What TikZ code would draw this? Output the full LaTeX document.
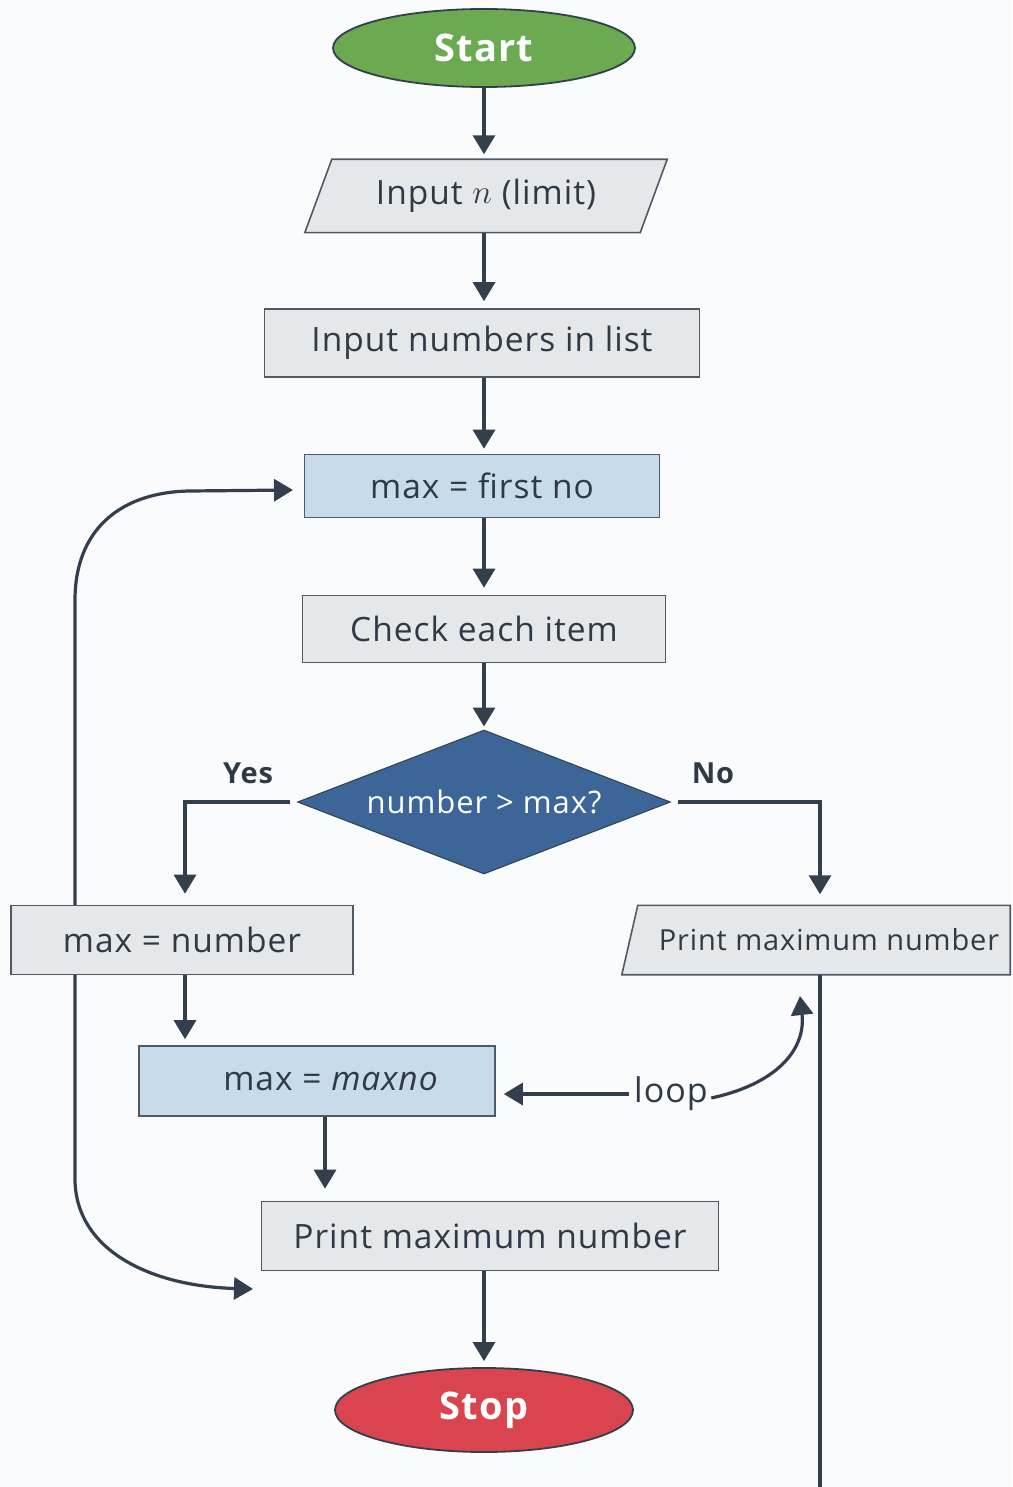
\documentclass[tikz,border=0pt]{standalone}
\usepackage{fontspec}
\usepackage{graphicx}
\setmainfont{Open Sans}[LetterSpace=3]
\usetikzlibrary{arrows.meta,shapes.geometric,calc,backgrounds}

\definecolor{ink}{HTML}{333F4C}
\definecolor{edge}{HTML}{4F5A66}
\definecolor{txt}{HTML}{2F3A45}
\definecolor{boxgray}{HTML}{E5E8EB}
\definecolor{boxblue}{HTML}{C8DBEA}
\definecolor{decblue}{HTML}{3C6697}
\definecolor{startgreen}{HTML}{6BAA50}
\definecolor{stopred}{HTML}{D9444E}
\definecolor{paper}{HTML}{FAFBFC}

\pgfdeclarelayer{paperlayer}
\pgfsetlayers{paperlayer,background,main}

\tikzset{
  arr/.style={draw=ink, line width=3.2pt, -{Triangle[length=19pt,width=22pt]}},
  plain/.style={draw=ink, line width=3.2pt},
  boxtext/.style={text=txt, font=\fontsize{33.5}{38}\selectfont},
  procbox/.style={boxtext, rectangle, draw=edge, line width=1.6pt, inner sep=0pt},
  graybox/.style={procbox, fill=boxgray},
  bluebox/.style={procbox, fill=boxblue},
  slantline/.style={draw=edge, line width=1.6pt, fill=boxgray},
  term/.style={ellipse, draw=ink, line width=1.8pt, inner sep=0pt,
    text=white, font=\fontsize{38}{42}\selectfont\bfseries},
  lbl/.style={text=txt, font=\fontsize{29}{32}\selectfont\bfseries}
}

\begin{document}
\begin{tikzpicture}[x=1pt,y=-1pt]
  % page
  \begin{pgfonlayer}{paperlayer}
    \fill[paper] (0,0) rectangle (1012,1487);
  \end{pgfonlayer}
  \useasboundingbox (0,0) rectangle (1012,1487);

  % main column
  \node[term, fill=startgreen, minimum width=302pt, minimum height=78pt] (start) at (484,48) {Start};
  \node[boxtext, minimum width=362pt, minimum height=73pt, inner sep=0pt] (inp) at (486,196)
       {Input \raisebox{1pt}{\scalebox{1.35}{$n$}} (limit)};
  \node[graybox, minimum width=435pt, minimum height=68pt] (list) at (482,343) {Input numbers in list};
  \node[bluebox, minimum width=355pt, minimum height=63pt] (first) at (482,486) {max = first no};
  \node[graybox, minimum width=363pt, minimum height=67pt] (check) at (484,629) {Check each item};
  \node[diamond, aspect=2.6, fill=decblue, draw=ink, line width=1pt, inner sep=0pt,
        minimum width=373pt, minimum height=144pt, text=white,
        font=\fontsize{31}{34}\selectfont] (dec) at (484,802) {number > max?};

  % branches
  \node[graybox, minimum width=342pt, minimum height=69pt] (numb) at (182,940) {max = number};
  \node[boxtext, minimum width=388pt, minimum height=69pt, inner sep=0pt,
        font=\fontsize{29}{32}\selectfont] (printR) at (816,940) {\hspace*{26pt}Print maximum number};
  \node[bluebox, minimum width=356pt, minimum height=70pt] (maxno) at (317,1081)
       {\hspace*{28pt}max = \textit{maxno}};
  \node[graybox, minimum width=457pt, minimum height=69pt] (printB) at (490,1236) {Print maximum number};
  \node[term, fill=stopred, minimum width=298pt, minimum height=84pt] (stop) at (484,1410) {Stop};

  \node[lbl] (yes) at (248,773) {Yes};
  \node[lbl] (no) at (713,773) {No};
  \node[text=txt, font=\fontsize{34}{38}\selectfont] (loop) at (671,1094) {loop};

  % slanted input / output shapes
  \begin{scope}[on background layer]
    \draw[slantline]
      ($(inp.north west)+(27,0)$) -- (inp.north east)
      -- ($(inp.south east)-(27,0)$) -- (inp.south west) -- cycle;
    \draw[slantline]
      ($(printR.north west)+(16,0)$) -- (printR.north east)
      -- (printR.south east) -- (printR.south west) -- cycle;
  \end{scope}

  % free ends
  \coordinate (firstTip) at (293,490);
  \coordinate (printTip) at (253,1289);
  \coordinate (yesCorner) at (185,802);
  \coordinate (noCorner) at (820,802);
  \coordinate (loopTip) at (800,996);
  \coordinate (pageEnd) at (820,1487);

  % straight flow, all on the vertical through Start
  \draw[arr, shorten >=5pt] (start.south) -- (start.south |- inp.north);
  \draw[arr, shorten >=7pt] (start.south |- inp.south) -- (start.south |- list.north);
  \draw[arr, shorten >=5pt] (start.south |- list.south) -- (start.south |- first.north);
  \draw[arr, shorten >=7pt] (start.south |- first.south) -- (start.south |- check.north);
  \draw[arr, shorten >=3pt] (start.south |- check.south) -- (dec.north);
  \draw[arr, shorten <=7pt, shorten >=11pt] (dec.west) -- (yesCorner) -- (yesCorner |- numb.north);
  \draw[arr, shorten <=7pt, shorten >=11pt] (dec.east) -- (noCorner) -- (noCorner |- printR.north);
  \draw[arr, shorten >=6pt] (yesCorner |- numb.south) -- (yesCorner |- maxno.north);
  \draw[arr, shorten >=12pt] ([xshift=8pt]maxno.south) -- ([xshift=8pt]maxno.south |- printB.north);
  \draw[arr, shorten >=6pt] (stop.north |- printB.south) -- (stop.north);
  \draw[plain] (noCorner |- printR.south) -- (pageEnd);

  % loop label arrows
  \draw[arr, shorten <=2pt, shorten >=8pt] (loop.west) -- (loop.west -| maxno.east);
  \draw[arr] ([yshift=-4pt]loop.east) .. controls (776,1084) and (806,1050) .. (loopTip);

  % left return path, running behind the max = number box
  \begin{scope}[on background layer]
    \draw[draw=ink, line width=3.2pt, {Triangle[length=19pt,width=22pt]}-{Triangle[length=19pt,width=22pt]}]
      (printTip) .. controls (150,1286) and (76,1250) .. (75,1180)
      -- (75,600) .. controls (75,530) and (120,492) .. (190,491) -- (firstTip);
  \end{scope}
\end{tikzpicture}
\end{document}
